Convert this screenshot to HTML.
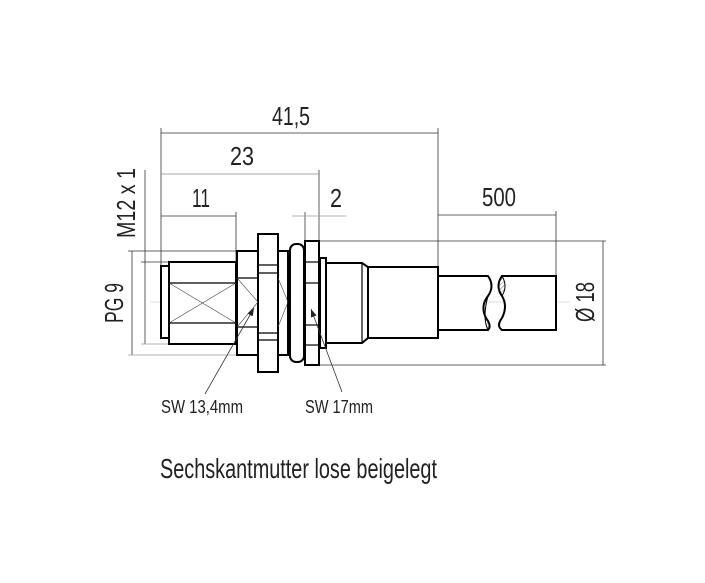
<!DOCTYPE html>
<html><head><style>
html,body{margin:0;padding:0;background:#fff;}
svg{display:block;}
text{font-family:"Liberation Sans Narrow","Liberation Sans",sans-serif;fill:#222;}
</style></head><body>
<svg width="705" height="583" viewBox="0 0 705 583" xmlns="http://www.w3.org/2000/svg">
<defs>
<pattern id="h" width="3" height="3" patternUnits="userSpaceOnUse" patternTransform="rotate(45)"><line x1="0" y1="0" x2="0" y2="3" stroke="#555" stroke-width="0.8"/></pattern>
<marker id="a" markerWidth="8" markerHeight="6" refX="8" refY="3" orient="auto" markerUnits="userSpaceOnUse"><path d="M0,0 L8,3 L0,6z" fill="#222"/></marker>
</defs>
<g stroke="#333" stroke-width="0.8" fill="none">
<line x1="161" y1="128" x2="161" y2="266"/>
<line x1="438" y1="128" x2="438" y2="267"/>
<line x1="319" y1="170" x2="319" y2="241"/>
<line x1="236" y1="212" x2="236" y2="262"/>
<line x1="305" y1="212" x2="305" y2="241"/>
<line x1="556" y1="211" x2="556" y2="276"/>
<line x1="161" y1="133" x2="438" y2="133"/>
<line x1="161" y1="174" x2="319" y2="174" stroke="#888"/>
<line x1="161" y1="216" x2="236" y2="216"/>
<line x1="292" y1="216" x2="346" y2="216" stroke="#999"/>
<line x1="438" y1="215" x2="556" y2="215"/>
<line x1="132" y1="251" x2="132" y2="355"/>
<line x1="145" y1="170" x2="145" y2="344"/>
<line x1="128" y1="251" x2="237" y2="251"/>
<line x1="128" y1="355" x2="237" y2="355" stroke="#999"/>
<line x1="141" y1="262" x2="169" y2="262"/>
<line x1="141" y1="344" x2="169" y2="344" stroke="#999"/>
<line x1="603" y1="241" x2="603" y2="365"/>
<line x1="319" y1="241" x2="606" y2="241"/>
<line x1="319" y1="365" x2="606" y2="365"/>
<line x1="150" y1="302" x2="570" y2="302" stroke="#bbb" stroke-width="0.6"/>
</g>
<g stroke="#000" stroke-width="2" fill="#fff">
<rect x="161" y="266" width="8" height="72"/>
<rect x="169" y="262" width="67" height="82"/>
<rect x="237" y="251" width="21" height="104"/>
<rect x="290" y="244" width="14" height="118" rx="6"/>
<rect x="278" y="251" width="10" height="104"/>
<rect x="258" y="234" width="20" height="138"/>
<rect x="305" y="241" width="14" height="124"/>
<rect x="320" y="258" width="6" height="90"/>
<path d="M326,263 H362 L368,267 V338 L362,343 H326z"/>
<rect x="368" y="267" width="70" height="71"/>
<path d="M438,276 H488 Q495,286 488,296 Q480,306 486,318 Q492,326 488,330 H438z"/>
<path d="M556,276 H502 Q495,286 502,296 Q508,306 502,318 Q496,326 502,330 H556z"/>
</g>
<g stroke="#000" stroke-width="1.2" fill="none">
<line x1="169" y1="283" x2="236" y2="283"/><line x1="169" y1="323" x2="236" y2="323"/>
<line x1="237" y1="278" x2="258" y2="278"/><line x1="237" y1="327" x2="258" y2="327"/>
<line x1="258" y1="265" x2="278" y2="265"/><line x1="258" y1="273" x2="278" y2="273"/>
<line x1="258" y1="333" x2="278" y2="333"/><line x1="258" y1="340" x2="278" y2="340"/>
<line x1="305" y1="262" x2="319" y2="262"/><line x1="305" y1="283" x2="319" y2="283"/>
<line x1="305" y1="325" x2="319" y2="325"/><line x1="305" y1="345" x2="319" y2="345"/>
<line x1="362" y1="263" x2="362" y2="343"/>
</g>
<g stroke="#444" stroke-width="0.6">
<line x1="169" y1="283" x2="236" y2="323"/><line x1="169" y1="323" x2="236" y2="283"/>
<line x1="237" y1="278" x2="258" y2="302"/><line x1="237" y1="327" x2="258" y2="302"/>
<line x1="278" y1="278" x2="288" y2="302"/><line x1="278" y1="327" x2="288" y2="302"/>
</g>
<path d="M488,296 Q480,306 486,318 Q492,326 488,330 Q482,318 488,296z" fill="url(#h)" stroke="#000"/>
<path d="M502,276 Q495,286 502,296 Q508,286 502,276z" fill="url(#h)" stroke="#000"/>
<line x1="205" y1="394" x2="254" y2="308" stroke="#333" stroke-width="0.8" marker-end="url(#a)"/>
<line x1="342" y1="392" x2="311" y2="309" stroke="#333" stroke-width="0.8" marker-end="url(#a)"/>
<text x="272" y="125" font-size="26" textLength="38" lengthAdjust="spacingAndGlyphs">41,5</text>
<text x="230" y="165" font-size="26" textLength="24" lengthAdjust="spacingAndGlyphs">23</text>
<text x="192" y="207" font-size="26" textLength="18" lengthAdjust="spacingAndGlyphs">11</text>
<text x="330" y="207" font-size="26" textLength="12" lengthAdjust="spacingAndGlyphs">2</text>
<text x="482" y="206" font-size="26" textLength="34" lengthAdjust="spacingAndGlyphs">500</text>
<text transform="translate(135,238) rotate(-90)" font-size="26" textLength="70" lengthAdjust="spacingAndGlyphs">M12 x 1</text>
<text transform="translate(123,323) rotate(-90)" font-size="26" textLength="40" lengthAdjust="spacingAndGlyphs">PG 9</text>
<text transform="translate(594,322) rotate(-90)" font-size="26" textLength="40" lengthAdjust="spacingAndGlyphs">Ø 18</text>
<text x="161" y="413" font-size="18" textLength="82" lengthAdjust="spacingAndGlyphs">SW 13,4mm</text>
<text x="305" y="413" font-size="18" textLength="68" lengthAdjust="spacingAndGlyphs">SW 17mm</text>
<text x="160" y="478" font-size="28" textLength="277" lengthAdjust="spacingAndGlyphs">Sechskantmutter lose beigelegt</text>
</svg>
</body></html>
